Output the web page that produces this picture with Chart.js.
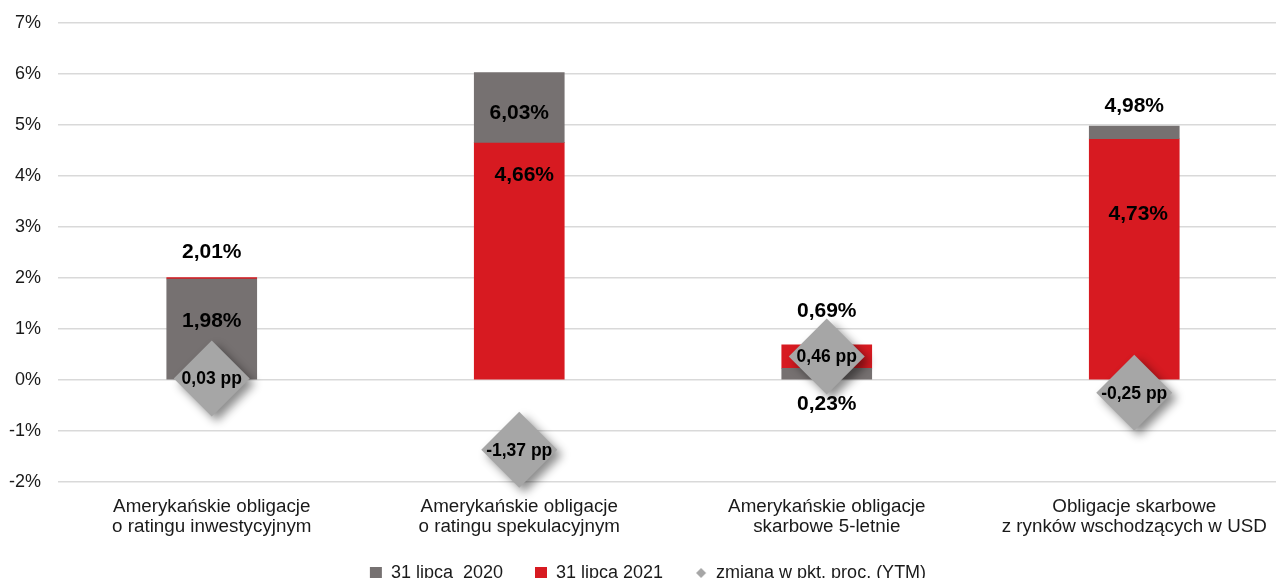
<!DOCTYPE html>
<html>
<head>
<meta charset="utf-8">
<script src="https://cdn.jsdelivr.net/npm/chart.js@4"></script>
<style>
	html, body { margin: 0; padding: 0; background: #fff; overflow: hidden; }
	#wrap { width: 1289px; height: 592px; position: relative; }
</style>
</head>
<body>
<div id="wrap"><canvas id="myChart"></canvas></div>
<script>
// data
var categories = [
	['Amerykańskie obligacje', 'o ratingu inwestycyjnym'],
	['Amerykańskie obligacje', 'o ratingu spekulacyjnym'],
	['Amerykańskie obligacje', 'skarbowe 5-letnie'],
	['Obligacje skarbowe', 'z rynków wschodzących w USD']
];
var y2020 = [1.98, 6.03, 0.23, 4.98];
var y2021 = [2.01, 4.66, 0.69, 4.73];
var change = [0.03, -1.37, 0.46, -0.25];
var yTicks = [-2, -1, 0, 1, 2, 3, 4, 5, 6, 7];

// label placement (px, relative to bar top / zero)
var off2020 = [-42, -41, 24, 20];
var off2021 = [25, -33, 34, -75];
var dx2020 = [0, 0, 0, 0];
var dx2021 = [0, 5, 0, 4];

var fontFamily = '"Liberation Sans", Arial, sans-serif';
Chart.defaults.font.family = fontFamily;
Chart.defaults.color = '#1a1a1a';

function fmt(v) { return v.toFixed(2).replace('.', ','); }

// the taller bar only shows above the shorter one, so draw it as a floating range
function ranges(a, b) {
	return a.map(function (v, i) { return v > b[i] ? [Math.max(b[i], 0), v] : [0, v]; });
}

// small diamond for the legend
var legendDiamond = document.createElement('canvas');
legendDiamond.width = 12; legendDiamond.height = 12;
(function () {
	var c = legendDiamond.getContext('2d');
	c.fillStyle = '#a6a6a6';
	c.beginPath();
	c.moveTo(6, 1); c.lineTo(11, 6); c.lineTo(6, 11); c.lineTo(1, 6);
	c.closePath(); c.fill();
})();

var shadowPlugin = {
	id: 'diamondShadow',
	beforeDatasetDraw: function (chart, args) {
		if (args.index !== 0) return;
		var ctx = chart.ctx;
		ctx.save();
		ctx.shadowColor = 'rgba(0,0,0,0.45)';
		ctx.shadowBlur = 10;
		ctx.shadowOffsetX = 5;
		ctx.shadowOffsetY = 5;
	},
	afterDatasetDraw: function (chart, args) {
		if (args.index !== 0) return;
		chart.ctx.restore();
	}
};

var labelPlugin = {
	id: 'valueLabels',
	afterDraw: function (chart) {
		var ctx = chart.ctx;
		var xs = chart.scales.x, ys = chart.scales.y;
		ctx.save();
		ctx.textAlign = 'center';
		ctx.textBaseline = 'middle';
		ctx.fillStyle = '#000';
		ctx.font = 'bold 21px ' + fontFamily;
		for (var i = 0; i < categories.length; i++) {
			var x = xs.getPixelForValue(i);
			var top20 = ys.getPixelForValue(i === 2 ? 0 : y2020[i]);
			ctx.fillText(fmt(y2020[i]) + '%', x + dx2020[i], top20 - off2020[i] * (i === 2 ? -1 : 1));
			var top21 = ys.getPixelForValue(y2021[i]);
			ctx.fillText(fmt(y2021[i]) + '%', x + dx2021[i], top21 - off2021[i]);
		}
		ctx.font = 'bold 17.5px ' + fontFamily;
		for (var j = 0; j < change.length; j++) {
			var cx = xs.getPixelForValue(j);
			var cy = ys.getPixelForValue(change[j]);
			ctx.fillText(fmt(change[j]) + ' pp', cx, cy + 1);
		}
		ctx.restore();
	}
};

var ctx = document.getElementById('myChart').getContext('2d');
var chart = new Chart(ctx, {
	type: 'bar',
	data: {
		labels: categories,
		datasets: [{
			type: 'line',
			label: 'zmiana w pkt. proc. (YTM)',
			data: change,
			showLine: false,
			pointStyle: 'rectRot',
			pointRadius: 38,
			pointHoverRadius: 38,
			pointBackgroundColor: '#a6a6a6',
			pointBorderWidth: 0,
			backgroundColor: '#a6a6a6',
			borderColor: '#a6a6a6',
			clip: false,
			order: 0
		}, {
			label: '31 lipca  2020',
			data: ranges(y2020, y2021),
			backgroundColor: '#767171',
			pointStyle: 'rect',
			order: 1
		}, {
			label: '31 lipca 2021',
			data: ranges(y2021, y2020),
			backgroundColor: '#d71a21',
			pointStyle: 'rect',
			order: 1
		}]
	},
	options: {
		responsive: true,
		maintainAspectRatio: false,
		animation: false,
		layout: { autoPadding: false, padding: { left: 8, top: 23, right: 1, bottom: 0 } },
		datasets: { bar: { barThickness: 90, grouped: false } },
		plugins: {
			tooltip: { enabled: false },
			legend: {
				position: 'bottom',
				labels: {
					usePointStyle: true,
					boxWidth: 12,
					boxHeight: 12,
					padding: 12,
					color: '#1a1a1a',
					font: { size: 18 },
					sort: function (a, b) {
						var ord = [2, 0, 1];
						return ord[a.datasetIndex] - ord[b.datasetIndex];
					},
					generateLabels: function (chart) {
						var items = Chart.defaults.plugins.legend.labels.generateLabels(chart);
						items.forEach(function (it) {
							if (it.datasetIndex === 0) it.pointStyle = legendDiamond;
							else it.text = it.text + '    ';
						});
						return items;
					}
				}
			}
		},
		scales: {
			x: {
				stacked: false,
				grid: { display: false, drawTicks: false },
				border: { display: false },
				ticks: { padding: 15, color: '#1a1a1a', font: { size: 18.8, lineHeight: '20px' } },
				afterFit: function (axis) { axis.paddingLeft = 0; axis.paddingRight = 0; }
			},
			y: {
				min: -2,
				max: 7,
				afterBuildTicks: function (axis) {
					axis.ticks = yTicks.map(function (v) { return { value: v }; });
				},
				afterFit: function (axis) { axis.width = 50; axis.paddingTop = 0; axis.paddingBottom = 0; },
				grid: { color: '#d9d9d9', lineWidth: 1.5, drawTicks: false },
				border: { display: false },
				ticks: {
					padding: 17,
					color: '#1a1a1a',
					font: { size: 18 },
					callback: function (v) { return v + '%'; }
				}
			}
		}
	},
	plugins: [shadowPlugin, labelPlugin]
});
</script>
</body>
</html>
